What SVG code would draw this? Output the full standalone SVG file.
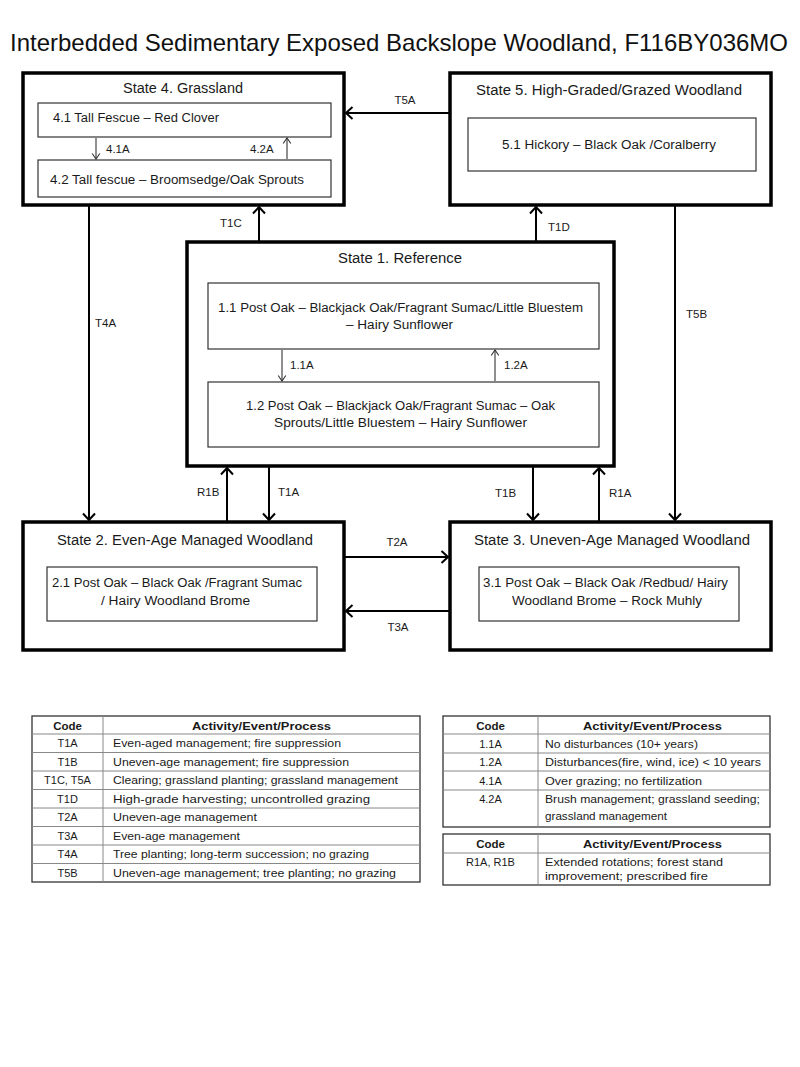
<svg xmlns="http://www.w3.org/2000/svg" width="800" height="1067" viewBox="0 0 800 1067">
<style>
text{font-family:"Liberation Sans",Arial,sans-serif;fill:#1a1a1a}
.title{font-size:24px;fill:#111}
.st{font-size:14px}
.in{font-size:12.5px}
.lb{font-size:11.5px}
.tb{font-size:11px}
.th{font-size:11.5px;font-weight:bold}
.outer{fill:#fff;stroke:#000;stroke-width:3.5}
.inner{fill:#fff;stroke:#333;stroke-width:1.2}
.con{stroke:#000;stroke-width:2;fill:none}
.sm{stroke:#333;stroke-width:1.1;fill:none}
.tbo{fill:none;stroke:#333;stroke-width:1.3}
.tl{stroke:#888;stroke-width:1}
</style>
<defs>
<marker id="ah" viewBox="-8 -8 10 16" markerWidth="10" markerHeight="16" refX="0" refY="0" orient="auto" markerUnits="userSpaceOnUse">
<path d="M-6.5,-6 L0,0 L-6.5,6" fill="none" stroke="#000" stroke-width="2"/>
</marker>
<marker id="ahs" viewBox="-7 -6 8 12" markerWidth="8" markerHeight="12" refX="0" refY="0" orient="auto" markerUnits="userSpaceOnUse">
<path d="M-5.5,-3.8 L0,0 L-5.5,3.8" fill="none" stroke="#333" stroke-width="1.1"/>
</marker>
</defs>
<rect width="800" height="1067" fill="#fff"/>
<text class="title" x="10" y="51" textLength="778" lengthAdjust="spacingAndGlyphs">Interbedded Sedimentary Exposed Backslope Woodland, F116BY036MO</text>

<g id="connectors">
<line class="con" x1="450" y1="113" x2="346" y2="113" marker-end="url(#ah)"/>
<line class="con" x1="259" y1="242" x2="259" y2="207" marker-end="url(#ah)"/>
<line class="con" x1="536" y1="242" x2="536" y2="207" marker-end="url(#ah)"/>
<line class="con" x1="89" y1="205" x2="89" y2="520" marker-end="url(#ah)"/>
<line class="con" x1="675" y1="205" x2="675" y2="520" marker-end="url(#ah)"/>
<line class="con" x1="227" y1="522" x2="227" y2="468" marker-end="url(#ah)"/>
<line class="con" x1="269" y1="466" x2="269" y2="520" marker-end="url(#ah)"/>
<line class="con" x1="533" y1="466" x2="533" y2="520" marker-end="url(#ah)"/>
<line class="con" x1="599" y1="522" x2="599" y2="468" marker-end="url(#ah)"/>
<line class="con" x1="344" y1="557" x2="448" y2="557" marker-end="url(#ah)"/>
<line class="con" x1="450" y1="611" x2="346" y2="611" marker-end="url(#ah)"/>
<text class="lb" x="405" y="104" text-anchor="middle">T5A</text>
<text class="lb" x="220" y="227">T1C</text>
<text class="lb" x="548" y="231">T1D</text>
<text class="lb" x="95" y="327">T4A</text>
<text class="lb" x="686" y="318">T5B</text>
<text class="lb" x="197" y="496">R1B</text>
<text class="lb" x="278" y="496">T1A</text>
<text class="lb" x="495" y="497">T1B</text>
<text class="lb" x="609" y="497">R1A</text>
<text class="lb" x="397" y="546" text-anchor="middle">T2A</text>
<text class="lb" x="398" y="631" text-anchor="middle">T3A</text>
</g>

<g id="state4">
<rect class="outer" x="23" y="73" width="321" height="132"/>
<text class="st" x="123" y="93" textLength="120" lengthAdjust="spacingAndGlyphs">State 4. Grassland</text>
<g id="p41">
<rect class="inner" x="38" y="103" width="293" height="34"/>
<text class="in" x="53" y="122" textLength="166" lengthAdjust="spacingAndGlyphs">4.1 Tall Fescue – Red Clover</text>
</g>
<g id="p42">
<rect class="inner" x="38" y="160" width="293" height="37"/>
<text class="in" x="50" y="184" textLength="254" lengthAdjust="spacingAndGlyphs">4.2 Tall fescue – Broomsedge/Oak Sprouts</text>
</g>
<line class="sm" x1="96" y1="138" x2="96" y2="159" marker-end="url(#ahs)"/>
<line class="sm" x1="287" y1="159" x2="287" y2="138" marker-end="url(#ahs)"/>
<text class="lb" x="106" y="153">4.1A</text>
<text class="lb" x="250" y="153">4.2A</text>
</g>

<g id="state5">
<rect class="outer" x="450" y="73" width="321" height="132"/>
<text class="st" x="476" y="95" textLength="266" lengthAdjust="spacingAndGlyphs">State 5. High-Graded/Grazed Woodland</text>
<g id="p51">
<rect class="inner" x="468" y="118" width="288" height="53"/>
<text class="in" x="502" y="149" textLength="214" lengthAdjust="spacingAndGlyphs">5.1 Hickory – Black Oak /Coralberry</text>
</g>
</g>

<g id="state1">
<rect class="outer" x="187" y="242" width="427" height="224"/>
<text class="st" x="338" y="263" textLength="124" lengthAdjust="spacingAndGlyphs">State 1. Reference</text>
<g id="p11">
<rect class="inner" x="208" y="283" width="391" height="66"/>
<text class="in" x="218" y="312" textLength="365" lengthAdjust="spacingAndGlyphs">1.1 Post Oak – Blackjack Oak/Fragrant Sumac/Little Bluestem</text>
<text class="in" x="346" y="329" textLength="107" lengthAdjust="spacingAndGlyphs">– Hairy Sunflower</text>
</g>
<g id="p12">
<rect class="inner" x="208" y="382" width="391" height="65"/>
<text class="in" x="246" y="410" textLength="309" lengthAdjust="spacingAndGlyphs">1.2 Post Oak – Blackjack Oak/Fragrant Sumac – Oak</text>
<text class="in" x="274" y="427" textLength="253" lengthAdjust="spacingAndGlyphs">Sprouts/Little Bluestem  – Hairy Sunflower</text>
</g>
<line class="sm" x1="282" y1="350" x2="282" y2="381" marker-end="url(#ahs)"/>
<line class="sm" x1="495" y1="381" x2="495" y2="350" marker-end="url(#ahs)"/>
<text class="lb" x="290" y="369">1.1A</text>
<text class="lb" x="504" y="369">1.2A</text>
</g>

<g id="state2">
<rect class="outer" x="23" y="522" width="321" height="128"/>
<text class="st" x="57" y="545" textLength="256" lengthAdjust="spacingAndGlyphs">State 2. Even-Age Managed Woodland</text>
<g id="p21">
<rect class="inner" x="47" y="567" width="270" height="54"/>
<text class="in" x="52" y="587" textLength="250" lengthAdjust="spacingAndGlyphs">2.1 Post Oak – Black Oak /Fragrant Sumac</text>
<text class="in" x="101" y="605" textLength="149" lengthAdjust="spacingAndGlyphs">/ Hairy Woodland Brome</text>
</g>
</g>

<g id="state3">
<rect class="outer" x="450" y="522" width="321" height="128"/>
<text class="st" x="474" y="545" textLength="276" lengthAdjust="spacingAndGlyphs">State 3. Uneven-Age Managed Woodland</text>
<g id="p31">
<rect class="inner" x="479" y="567" width="260" height="54"/>
<text class="in" x="483" y="587" textLength="245" lengthAdjust="spacingAndGlyphs">3.1 Post Oak – Black Oak /Redbud/  Hairy</text>
<text class="in" x="512" y="605" textLength="190" lengthAdjust="spacingAndGlyphs">Woodland Brome – Rock Muhly</text>
</g>
</g>

<g id="table-transitions">
<rect class="tbo" x="32" y="716" width="388" height="166"/>
<line class="tl" x1="103" y1="716" x2="103" y2="882"/>
<line class="tl" x1="32" y1="734" x2="420" y2="734"/>
<line class="tl" x1="32" y1="752.5" x2="420" y2="752.5"/>
<line class="tl" x1="32" y1="771" x2="420" y2="771"/>
<line class="tl" x1="32" y1="789.5" x2="420" y2="789.5"/>
<line class="tl" x1="32" y1="808" x2="420" y2="808"/>
<line class="tl" x1="32" y1="826.5" x2="420" y2="826.5"/>
<line class="tl" x1="32" y1="845" x2="420" y2="845"/>
<line class="tl" x1="32" y1="863.5" x2="420" y2="863.5"/>
<text class="th" x="67.5" y="730" text-anchor="middle">Code</text>
<text class="th" x="192" y="730" textLength="139" lengthAdjust="spacingAndGlyphs">Activity/Event/Process</text>
<text class="tb" x="67.5" y="747" text-anchor="middle">T1A</text>
<text class="tb" x="113" y="747" textLength="228" lengthAdjust="spacingAndGlyphs">Even-aged management; fire suppression</text>
<text class="tb" x="67.5" y="765.5" text-anchor="middle">T1B</text>
<text class="tb" x="113" y="765.5" textLength="236" lengthAdjust="spacingAndGlyphs">Uneven-age management; fire suppression</text>
<text class="tb" x="67.5" y="784" text-anchor="middle">T1C, T5A</text>
<text class="tb" x="113" y="784" textLength="285" lengthAdjust="spacingAndGlyphs">Clearing; grassland planting; grassland management</text>
<text class="tb" x="67.5" y="802.5" text-anchor="middle">T1D</text>
<text class="tb" x="113" y="802.5" textLength="257" lengthAdjust="spacingAndGlyphs">High-grade harvesting; uncontrolled grazing</text>
<text class="tb" x="67.5" y="821" text-anchor="middle">T2A</text>
<text class="tb" x="113" y="821" textLength="144" lengthAdjust="spacingAndGlyphs">Uneven-age management</text>
<text class="tb" x="67.5" y="839.5" text-anchor="middle">T3A</text>
<text class="tb" x="113" y="839.5" textLength="127" lengthAdjust="spacingAndGlyphs">Even-age management</text>
<text class="tb" x="67.5" y="858" text-anchor="middle">T4A</text>
<text class="tb" x="113" y="858" textLength="256" lengthAdjust="spacingAndGlyphs">Tree planting; long-term succession; no grazing</text>
<text class="tb" x="67.5" y="876.5" text-anchor="middle">T5B</text>
<text class="tb" x="113" y="876.5" textLength="283" lengthAdjust="spacingAndGlyphs">Uneven-age management; tree planting; no grazing</text>
</g>

<g id="table-pathways">
<rect class="tbo" x="443" y="716" width="327" height="111"/>
<line class="tl" x1="538" y1="716" x2="538" y2="827"/>
<line class="tl" x1="443" y1="734" x2="770" y2="734"/>
<line class="tl" x1="443" y1="753" x2="770" y2="753"/>
<line class="tl" x1="443" y1="771" x2="770" y2="771"/>
<line class="tl" x1="443" y1="790" x2="770" y2="790"/>
<text class="th" x="490.5" y="730" text-anchor="middle">Code</text>
<text class="th" x="583" y="730" textLength="139" lengthAdjust="spacingAndGlyphs">Activity/Event/Process</text>
<text class="tb" x="490.5" y="747.5" text-anchor="middle">1.1A</text>
<text class="tb" x="545" y="747.5" textLength="153" lengthAdjust="spacingAndGlyphs">No disturbances (10+ years)</text>
<text class="tb" x="490.5" y="766" text-anchor="middle">1.2A</text>
<text class="tb" x="545" y="766" textLength="216" lengthAdjust="spacingAndGlyphs">Disturbances(fire, wind, ice) &lt; 10 years</text>
<text class="tb" x="490.5" y="784.5" text-anchor="middle">4.1A</text>
<text class="tb" x="545" y="784.5" textLength="157" lengthAdjust="spacingAndGlyphs">Over grazing; no fertilization</text>
<text class="tb" x="490.5" y="803" text-anchor="middle">4.2A</text>
<text class="tb" x="545" y="803" textLength="215" lengthAdjust="spacingAndGlyphs">Brush management; grassland seeding;</text>
<text class="tb" x="545" y="820" textLength="122" lengthAdjust="spacingAndGlyphs">grassland management</text>
</g>

<g id="table-restoration">
<rect class="tbo" x="443" y="834" width="327" height="51"/>
<line class="tl" x1="538" y1="834" x2="538" y2="885"/>
<line class="tl" x1="443" y1="853" x2="770" y2="853"/>
<text class="th" x="490.5" y="848" text-anchor="middle">Code</text>
<text class="th" x="583" y="848" textLength="139" lengthAdjust="spacingAndGlyphs">Activity/Event/Process</text>
<text class="tb" x="490.5" y="866" text-anchor="middle">R1A, R1B</text>
<text class="tb" x="545" y="866" textLength="178" lengthAdjust="spacingAndGlyphs">Extended rotations; forest stand</text>
<text class="tb" x="545" y="880" textLength="163" lengthAdjust="spacingAndGlyphs">improvement; prescribed fire</text>
</g>
</svg>
